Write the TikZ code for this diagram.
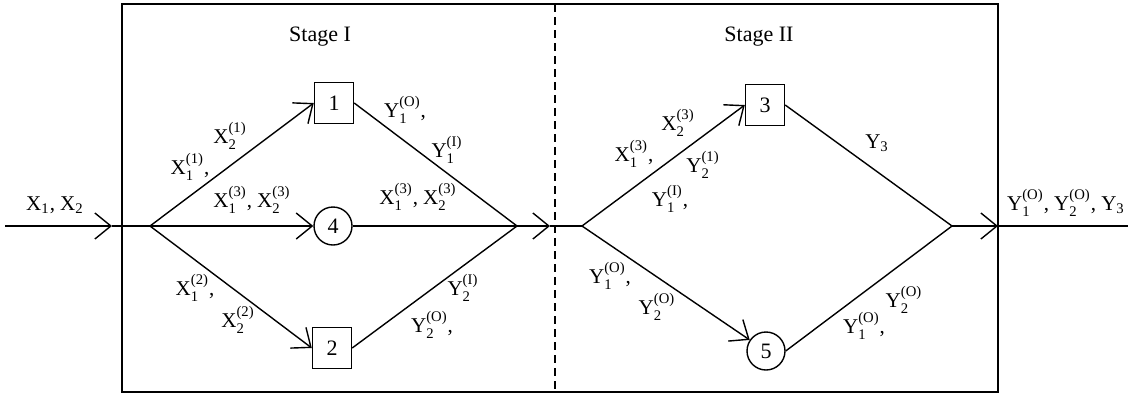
\documentclass[tikz,border=0pt]{standalone}
\usepackage{amsmath}
\usepackage{fontspec}
\setmainfont{Liberation Serif}
\usetikzlibrary{positioning,arrows.meta}
\newcommand{\varsym}[3]{$\text{#1}_{\text{#2}}^{\text{#3}}$}
\tikzset{
  flow/.style={-{Straight Barb[length=8pt,width=13pt]},line width=0.7pt},
  link/.style={line width=0.7pt},
  unitbox/.style={draw,line width=0.7pt,minimum width=19.5pt,minimum height=20.5pt,
    inner sep=0pt,font=\fontsize{11}{13}\selectfont},
  unitcirc/.style={draw,circle,line width=0.7pt,minimum size=19pt,
    inner sep=0pt,font=\fontsize{11}{13}\selectfont},
  lbl/.style={inner sep=0pt,font=\fontsize{10.5}{12}\selectfont},
  stagelbl/.style={inner sep=0pt,font=\fontsize{11}{13}\selectfont}
}

\begin{document}
\begin{tikzpicture}[x=0.5pt,y=-0.5pt]
  \useasboundingbox (0,0) rectangle (1128,397);
  % frame and stage divider
  \draw[link] (122,4) rectangle (998,392);
  \draw[link,dash pattern=on 4pt off 2.5pt] (555,4) -- (555,392);
  \node[stagelbl] (st1) at (320,37) {Stage I};
  \node[stagelbl] (st2) at (759,37) {Stage II};

  % junctions
  \coordinate (in) at (5,226);
  \coordinate (inarr) at (112,226);
  \coordinate (j1) at (150,226);
  \coordinate (j2) at (517,226);
  \coordinate (midarr) at (550,226);
  \coordinate (j3) at (582,226);
  \coordinate (j4) at (952,226);
  \coordinate (outarr) at (998,226);
  \coordinate (out) at (1128,226);

  % units
  \node[unitbox] (u1) at (334,103) {1};
  \node[unitcirc] (u4) at (333,226) {4};
  \node[unitbox] (u2) at (332,348) {2};
  \node[unitbox] (u3) at (765,105) {3};
  \node[unitcirc] (u5) at (766,351) {5};

  % stage I
  \draw[flow] (in) -- (inarr);
  \draw[link] (inarr) -- (j1);
  \draw[flow] (j1) -- (u1.west);
  \draw[flow] (j1) -- (u4.west);
  \draw[flow] (j1) -- (u2.west);
  \draw[link] (u1.east) -- (j2);
  \draw[link] (u4.east) -- (j2);
  \draw[link] (u2.east) -- (j2);
  \draw[flow] (j2) -- (midarr);
  \draw[link] (midarr) -- (j3);

  % stage II
  \draw[flow] (j3) -- (u3.west);
  \draw[flow] (j3) -- (u5);
  \draw[link] (u3.east) -- (j4);
  \draw[link] (u5.east) -- (j4);
  \draw[flow] (j4) -- (outarr);
  \draw[link] (outarr) -- (out);

  % flow labels
  \node[lbl] (lin) at (55,205) {X\textsubscript{1}, X\textsubscript{2}};
  \node[lbl] (la1) at (190,167) {\varsym{X}{1}{(1)},};
  \node[lbl] (la2) at (230,136) {\varsym{X}{2}{(1)}};
  \node[lbl] (la3) at (252,200) {\varsym{X}{1}{(3)}, \varsym{X}{2}{(3)}};
  \node[lbl] (lb1) at (195,288) {\varsym{X}{1}{(2)},};
  \node[lbl] (lb2) at (238,320) {\varsym{X}{2}{(2)}};
  \node[lbl] (lc1) at (405,110) {\varsym{Y}{1}{(O)},};
  \node[lbl] (lc2) at (447,150) {\varsym{Y}{1}{(I)}};
  \node[lbl] (lc3) at (418,197) {\varsym{X}{1}{(3)}, \varsym{X}{2}{(3)}};
  \node[lbl] (lc4) at (463,288) {\varsym{Y}{2}{(I)}};
  \node[lbl] (lc5) at (432,325) {\varsym{Y}{2}{(O)},};
  \node[lbl] (ld1) at (634,154) {\varsym{X}{1}{(3)},};
  \node[lbl] (ld2) at (678,123) {\varsym{X}{2}{(3)}};
  \node[lbl] (ld3) at (703,165) {\varsym{Y}{2}{(1)}};
  \node[lbl] (ld4) at (670,199) {\varsym{Y}{1}{(I)},};
  \node[lbl] (le1) at (610,276) {\varsym{Y}{1}{(O)},};
  \node[lbl] (le2) at (657,307) {\varsym{Y}{2}{(O)}};
  \node[lbl] (lf1) at (877,143) {Y\textsubscript{3}};
  \node[lbl] (lf2) at (904,300) {\varsym{Y}{2}{(O)}};
  \node[lbl] (lf3) at (864,326) {\varsym{Y}{1}{(O)},};
  \node[lbl] (lout) at (1066,203) {\varsym{Y}{1}{(O)}, \varsym{Y}{2}{(O)}, Y\textsubscript{3}};
\end{tikzpicture}
\end{document}
